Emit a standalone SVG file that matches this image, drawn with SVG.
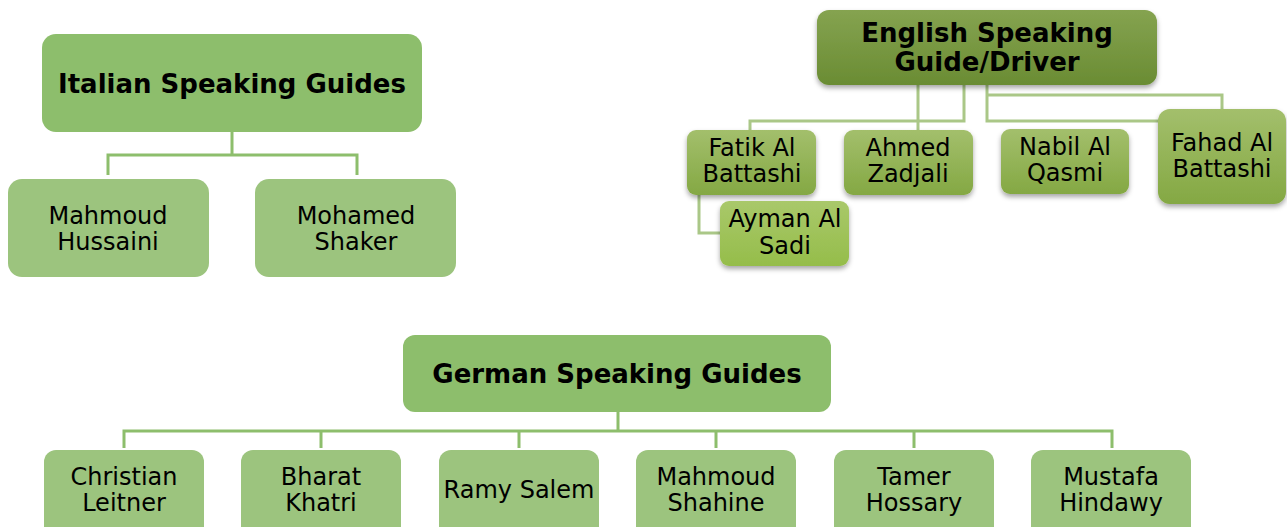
<svg xmlns="http://www.w3.org/2000/svg" width="1287" height="527" viewBox="0 0 1287 527">
<defs>
<linearGradient id="gRoot" x1="0" y1="0" x2="0" y2="1"><stop offset="0" stop-color="#85a350"/><stop offset="1" stop-color="#6a8c33"/></linearGradient>
<linearGradient id="gChild" x1="0" y1="0" x2="0" y2="1"><stop offset="0" stop-color="#a3bf6c"/><stop offset="1" stop-color="#84a843"/></linearGradient>
<linearGradient id="gAyman" x1="0" y1="0" x2="0" y2="1"><stop offset="0" stop-color="#a9c86a"/><stop offset="1" stop-color="#95bd4a"/></linearGradient>
<filter id="sh" x="-20%" y="-20%" width="140%" height="150%"><feDropShadow dx="0" dy="3" stdDeviation="2.5" flood-color="#000" flood-opacity="0.35"/></filter>
</defs>
<style>
.t{font-family:"DejaVu Sans",Verdana,sans-serif;font-size:24px;fill:#000;text-anchor:middle}
.b{font-weight:bold;font-size:26px}
.rootA{fill:#8dbe6c}
.childA{fill:#9cc47e}
.lnA{fill:none;stroke:#8dbe6c;stroke-width:3}
.lnE{fill:none;stroke:#aac787;stroke-width:3}
.eRoot{fill:url(#gRoot);filter:url(#sh)}
.eChild{fill:url(#gChild);filter:url(#sh)}
</style>
<g id="connectors">
<path class="lnA" d="M232 132V155M108 175V155H357V175"/>
<path class="lnE" d="M918 85V130M964 85V121H750V130M987 85V121H1160M987 95H1222V109M699 195V233H721"/>
<path class="lnA" d="M618 412V431M124 448V431H1112V448M321 431V448M519 431V448M716 431V448M914 431V448"/>
</g>
<g id="italian-root"><rect class="rootA" x="42" y="34" width="380" height="98" rx="14"/><text class="t b" x="232" y="93">Italian Speaking Guides</text></g>
<g id="mahmoud-hussaini"><rect class="childA" x="8" y="179" width="201" height="98" rx="14"/><text class="t" x="108" y="224">Mahmoud</text><text class="t" x="108" y="250">Hussaini</text></g>
<g id="mohamed-shaker"><rect class="childA" x="255" y="179" width="201" height="98" rx="14"/><text class="t" x="356" y="224">Mohamed</text><text class="t" x="356" y="250">Shaker</text></g>
<g id="english-root"><rect class="eRoot" x="817" y="10" width="340" height="75" rx="12"/><text class="t b" x="987" y="42">English Speaking</text><text class="t b" x="987" y="71">Guide/Driver</text></g>
<g id="fatik"><rect class="eChild" x="687" y="130" width="129" height="65" rx="9"/><text class="t" x="752" y="156">Fatik Al</text><text class="t" x="752" y="182">Battashi</text></g>
<g id="ahmed"><rect class="eChild" x="844" y="130" width="129" height="65" rx="9"/><text class="t" x="908" y="156">Ahmed</text><text class="t" x="908" y="182">Zadjali</text></g>
<g id="nabil"><rect class="eChild" x="1001" y="129" width="128" height="65" rx="9"/><text class="t" x="1065" y="155">Nabil Al</text><text class="t" x="1065" y="181">Qasmi</text></g>
<g id="fahad"><rect class="eChild" x="1158" y="109" width="128" height="95" rx="12"/><text class="t" x="1222" y="151">Fahad Al</text><text class="t" x="1222" y="177">Battashi</text></g>
<g id="ayman"><rect x="720" y="201" width="129" height="65" rx="9" fill="url(#gAyman)" filter="url(#sh)"/><text class="t" x="785" y="227">Ayman Al</text><text class="t" x="785" y="254">Sadi</text></g>
<g id="german-root"><rect class="rootA" x="403" y="335" width="428" height="77" rx="12"/><text class="t b" x="617" y="383">German Speaking Guides</text></g>
<g id="christian"><rect class="childA" x="44" y="450" width="160" height="90" rx="12"/><text class="t" x="124" y="485">Christian</text><text class="t" x="124" y="511">Leitner</text></g>
<g id="bharat"><rect class="childA" x="241" y="450" width="160" height="90" rx="12"/><text class="t" x="321" y="485">Bharat</text><text class="t" x="321" y="511">Khatri</text></g>
<g id="ramy"><rect class="childA" x="439" y="450" width="160" height="90" rx="12"/><text class="t" x="519" y="498">Ramy Salem</text></g>
<g id="mahmoud-shahine"><rect class="childA" x="636" y="450" width="160" height="90" rx="12"/><text class="t" x="716" y="485">Mahmoud</text><text class="t" x="716" y="511">Shahine</text></g>
<g id="tamer"><rect class="childA" x="834" y="450" width="160" height="90" rx="12"/><text class="t" x="914" y="485">Tamer</text><text class="t" x="914" y="511">Hossary</text></g>
<g id="mustafa"><rect class="childA" x="1031" y="450" width="160" height="90" rx="12"/><text class="t" x="1111" y="485">Mustafa</text><text class="t" x="1111" y="511">Hindawy</text></g>
</svg>
